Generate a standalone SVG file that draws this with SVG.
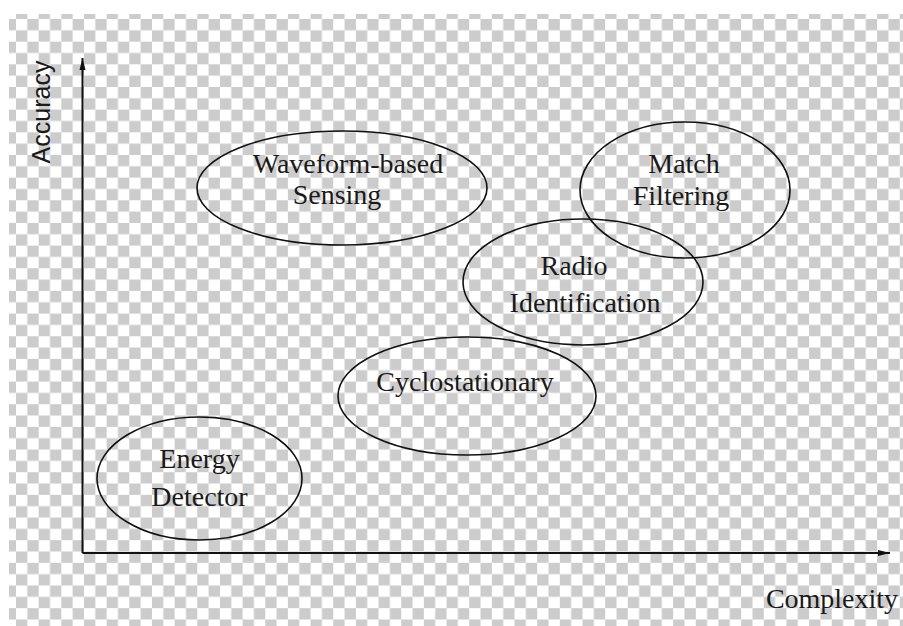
<svg xmlns="http://www.w3.org/2000/svg" width="903" height="626" viewBox="0 0 903 626">
  <style>
    .node ellipse { fill: none; stroke: #111; stroke-width: 1.6; }
    .node text, .axis-label.serif { font-family: "Liberation Serif", "Times New Roman", serif; font-size: 28px; fill: #1a1a1a; text-anchor: middle; }
    .axis { stroke: #111; stroke-width: 2; fill: none; }
    .axis-label { fill: #1a1a1a; }
  </style>
  <defs>
    <!-- transparency checkerboard -->
    <pattern id="checker" patternUnits="userSpaceOnUse" x="16" y="19" width="22.66" height="22.66">
      <rect x="0" y="0" width="22.66" height="22.66" fill="#ffffff"/>
      <rect x="11.33" y="0" width="11.33" height="11.33" fill="#cccccc"/>
      <rect x="0" y="11.33" width="11.33" height="11.33" fill="#cccccc"/>
    </pattern>
    <marker id="arrow" viewBox="0 0 12 8" refX="12" refY="4" markerWidth="12" markerHeight="8" markerUnits="userSpaceOnUse" orient="auto">
      <path d="M0,1 L12,4 L0,7 Z" fill="#111"/>
    </marker>
  </defs>

  <rect x="0" y="0" width="903" height="626" fill="#ffffff"/>
  <rect x="9" y="14" width="894" height="612" fill="url(#checker)"/>

  <!-- axes -->
  <g id="connectors">
    <line class="axis" x1="82.5" y1="553" x2="82.5" y2="58" marker-end="url(#arrow)"/>
    <line class="axis" x1="82.5" y1="553" x2="890" y2="553" marker-end="url(#arrow)"/>
  </g>

  <text class="axis-label" x="0" y="0" transform="translate(50,112) rotate(-90)" font-family="Liberation Sans, Arial, sans-serif" font-size="25" text-anchor="middle">Accuracy</text>
  <text class="axis-label" x="832" y="608" font-family="Liberation Serif, Times New Roman, serif" font-size="28" text-anchor="middle">Complexity</text>

  <g id="waveform" class="node">
    <ellipse cx="342" cy="188" rx="145" ry="57"/>
    <text x="348" y="173">Waveform-based</text>
    <text x="337" y="204">Sensing</text>
  </g>

  <g id="match" class="node">
    <ellipse cx="685" cy="190" rx="105" ry="68"/>
    <text x="684" y="173">Match</text>
    <text x="681" y="205">Filtering</text>
  </g>

  <g id="radio" class="node">
    <ellipse cx="583" cy="282" rx="120" ry="63"/>
    <text x="574" y="275">Radio</text>
    <text x="585" y="312">Identification</text>
  </g>

  <g id="cyclo" class="node">
    <ellipse cx="467" cy="396" rx="129" ry="59"/>
    <text x="465" y="391">Cyclostationary</text>
  </g>

  <g id="energy" class="node">
    <ellipse cx="199.5" cy="478.5" rx="102.5" ry="61.5"/>
    <text x="199.5" y="468">Energy</text>
    <text x="199.5" y="506">Detector</text>
  </g>
</svg>
